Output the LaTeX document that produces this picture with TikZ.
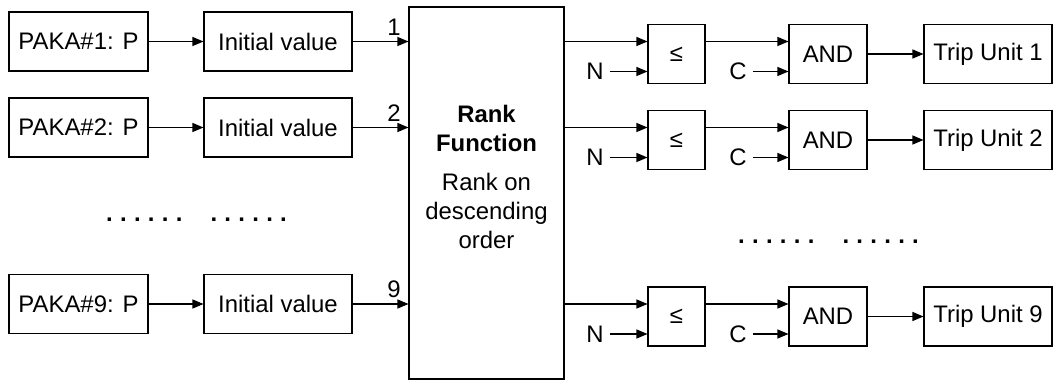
\documentclass[tikz,border=0pt]{standalone}
\usepackage{fontspec}
\setmainfont{Liberation Sans}
\usetikzlibrary{positioning,arrows.meta}
\newcommand{\sixdots}{\textbf{.\hspace{0.146cm}.\hspace{0.146cm}.\hspace{0.146cm}.\hspace{0.146cm}.\hspace{0.146cm}.}}

\begin{document}
\begin{tikzpicture}[font=\fontsize{13.6}{16.5}\selectfont,
  blk/.style={draw,line width=0.6pt,minimum height=1.18cm,inner sep=0pt,align=center},
  src/.style={blk,minimum width=2.78cm},
  ini/.style={blk,minimum width=2.96cm},
  cmp/.style={blk,minimum width=1.14cm},
  gate/.style={blk,minimum width=1.56cm},
  trip/.style={blk,minimum width=2.56cm},
  wire/.style={-{Triangle[length=2.2mm,width=1.8mm]},line width=0.6pt}]
\useasboundingbox (0,0) rectangle (21.08,7.62);
% rank block in the middle
\node[blk,minimum width=3.1cm,minimum height=7.44cm] (rank) at (9.73,3.76) {};
\node[align=center] (rankt) at (9.73,4.08) {\textbf{Rank}\\\textbf{Function}\\[6pt]Rank on\\descending\\order};
% row 1
\node[src] (pk1) at (1.57,6.79) {PAKA\#1: P};
\node[ini] (iv1) at (5.56,6.79) {Initial value};
\draw[wire] (pk1) -- (iv1);
\draw[wire] (iv1) -- node[pos=0.74,above]{1} (rank.west |- iv1);
\node[cmp] (le1) at (13.53,6.54) {≤};
\node[gate] (and1) at (16.56,6.54) {AND};
\node[trip] (trip1) at (19.76,6.54) {Trip Unit 1};
\node (n1) at (11.9,6.19) {N};
\node (c1) at (14.76,6.19) {C};
\draw[wire] (rank.east |- iv1) -- (le1.west |- iv1);
\draw[wire] (n1) -- (le1.west |- n1);
\draw[wire] (le1.east |- iv1) -- (and1.west |- iv1);
\draw[wire] (c1) -- (and1.west |- c1);
\draw[wire] (and1) -- (trip1);
% row 2
\node[src] (pk2) at (1.57,5.07) {PAKA\#2: P};
\node[ini] (iv2) at (5.56,5.07) {Initial value};
\draw[wire] (pk2) -- (iv2);
\draw[wire] (iv2) -- node[pos=0.74,above]{2} (rank.west |- iv2);
\node[cmp] (le2) at (13.53,4.82) {≤};
\node[gate] (and2) at (16.56,4.82) {AND};
\node[trip] (trip2) at (19.76,4.82) {Trip Unit 2};
\node (n2) at (11.9,4.47) {N};
\node (c2) at (14.76,4.47) {C};
\draw[wire] (rank.east |- iv2) -- (le2.west |- iv2);
\draw[wire] (n2) -- (le2.west |- n2);
\draw[wire] (le2.east |- iv2) -- (and2.west |- iv2);
\draw[wire] (c2) -- (and2.west |- c2);
\draw[wire] (and2) -- (trip2);
% skipped rows
\node (dotsl) at (3.93,3.22) {\sixdots\hspace{0.56cm}\sixdots};
\node (dotsr) at (16.57,2.78) {\sixdots\hspace{0.56cm}\sixdots};
% row 9
\node[src] (pk9) at (1.57,1.54) {PAKA\#9: P};
\node[ini] (iv9) at (5.56,1.54) {Initial value};
\draw[wire] (pk9) -- (iv9);
\draw[wire] (iv9) -- node[pos=0.74,above]{9} (rank.west |- iv9);
\node[cmp] (le9) at (13.53,1.29) {≤};
\node[gate] (and9) at (16.56,1.29) {AND};
\node[trip] (trip9) at (19.76,1.29) {Trip Unit 9};
\node (n9) at (11.9,0.94) {N};
\node (c9) at (14.76,0.94) {C};
\draw[wire] (rank.east |- iv9) -- (le9.west |- iv9);
\draw[wire] (n9) -- (le9.west |- n9);
\draw[wire] (le9.east |- iv9) -- (and9.west |- iv9);
\draw[wire] (c9) -- (and9.west |- c9);
\draw[wire] (and9) -- (trip9);
\end{tikzpicture}
\end{document}
